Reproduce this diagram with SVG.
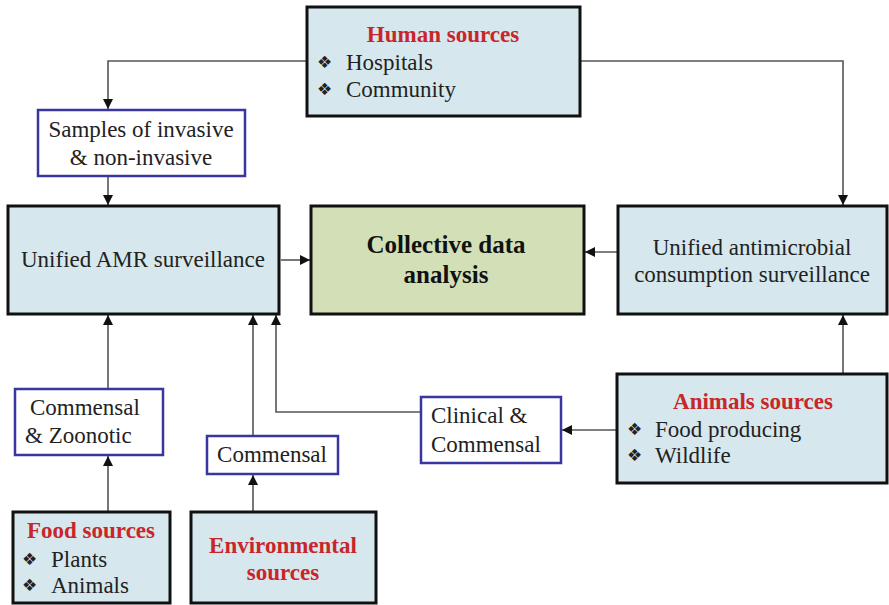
<svg xmlns="http://www.w3.org/2000/svg" width="889" height="605" viewBox="0 0 889 605">
  <style>
    .src { fill: #d6e8ee; stroke: #111; stroke-width: 3; }
    .hub { fill: #d3dfb7; stroke: #111; stroke-width: 3; }
    .tag { fill: #fff; stroke: #3a36a0; stroke-width: 2.5; }
    .link { fill: none; stroke: #555; stroke-width: 1.6; }
    text { font-family: "Liberation Serif", "DejaVu Serif", serif; font-size: 23px; fill: #222; }
    .head { font-weight: bold; fill: #c8262a; }
    .big { font-weight: bold; font-size: 25px; fill: #111; }
    .mid { text-anchor: middle; }
    .bul { font-family: "DejaVu Sans", sans-serif; font-size: 17px; fill: #222; }
  </style>
  <defs>
    <marker id="arrow" viewBox="0 0 10 10" refX="10" refY="5" markerWidth="10" markerHeight="10" markerUnits="userSpaceOnUse" orient="auto">
      <path d="M0,0 L10,5 L0,10 Z" fill="#111"/>
    </marker>
  </defs>

  <rect width="889" height="605" fill="#fff"/>

  <!-- connectors -->
  <g id="connectors">
    <path class="link" d="M307,61 H108 V109" marker-end="url(#arrow)"/>
    <path class="link" d="M108,176 V205" marker-end="url(#arrow)"/>
    <path class="link" d="M580,61 H843 V205" marker-end="url(#arrow)"/>
    <path class="link" d="M281,260 H310" marker-end="url(#arrow)"/>
    <path class="link" d="M618,252 H585" marker-end="url(#arrow)"/>
    <path class="link" d="M843,374 V315" marker-end="url(#arrow)"/>
    <path class="link" d="M108,389 V315" marker-end="url(#arrow)"/>
    <path class="link" d="M108,512 V456" marker-end="url(#arrow)"/>
    <path class="link" d="M253,436 V315" marker-end="url(#arrow)"/>
    <path class="link" d="M253,512 V475" marker-end="url(#arrow)"/>
    <path class="link" d="M421,412 H276 V315" marker-end="url(#arrow)"/>
    <path class="link" d="M617,430 H562" marker-end="url(#arrow)"/>
  </g>

  <!-- human sources -->
  <g id="human-sources">
    <rect class="src" x="307" y="7" width="273" height="109"/>
    <text class="head mid" x="443" y="42">Human sources</text>
    <text class="bul" x="317" y="68">❖</text>
    <text x="346" y="70">Hospitals</text>
    <text class="bul" x="317" y="95">❖</text>
    <text x="346" y="97">Community</text>
  </g>

  <!-- sample type label -->
  <g id="samples">
    <rect class="tag" x="38" y="110" width="207" height="66"/>
    <text class="mid" x="141" y="137">Samples of invasive</text>
    <text class="mid" x="141" y="165">&amp; non-invasive</text>
  </g>

  <!-- AMR surveillance -->
  <g id="amr-surveillance">
    <rect class="src" x="8" y="206" width="271" height="108"/>
    <text class="mid" x="143" y="267">Unified AMR surveillance</text>
  </g>

  <!-- collective analysis -->
  <g id="collective-analysis">
    <rect class="hub" x="311" y="206" width="273" height="108"/>
    <text class="big mid" x="446" y="253">Collective data</text>
    <text class="big mid" x="446" y="283">analysis</text>
  </g>

  <!-- consumption surveillance -->
  <g id="consumption-surveillance">
    <rect class="src" x="618" y="206" width="269" height="108"/>
    <text class="mid" x="752" y="255">Unified antimicrobial</text>
    <text class="mid" x="752" y="282">consumption surveillance</text>
  </g>

  <!-- commensal and zoonotic label -->
  <g id="commensal-zoonotic">
    <rect class="tag" x="15" y="389" width="148" height="66"/>
    <text x="30" y="415">Commensal</text>
    <text x="25" y="443">&amp; Zoonotic</text>
  </g>

  <!-- commensal label -->
  <g id="commensal">
    <rect class="tag" x="207" y="436" width="131" height="38"/>
    <text class="mid" x="272" y="462">Commensal</text>
  </g>

  <!-- clinical and commensal label -->
  <g id="clinical-commensal">
    <rect class="tag" x="421" y="397" width="140" height="66"/>
    <text x="431" y="423">Clinical &amp;</text>
    <text x="431" y="452">Commensal</text>
  </g>

  <!-- animal sources -->
  <g id="animal-sources">
    <rect class="src" x="617" y="374" width="270" height="109"/>
    <text class="head mid" x="753" y="409">Animals sources</text>
    <text class="bul" x="627" y="435">❖</text>
    <text x="655" y="437">Food producing</text>
    <text class="bul" x="627" y="461">❖</text>
    <text x="655" y="463">Wildlife</text>
  </g>

  <!-- food sources -->
  <g id="food-sources">
    <rect class="src" x="13" y="512" width="157" height="91"/>
    <text class="head" x="27" y="538">Food sources</text>
    <text class="bul" x="22" y="565">❖</text>
    <text x="51" y="567">Plants</text>
    <text class="bul" x="22" y="591">❖</text>
    <text x="51" y="593">Animals</text>
  </g>

  <!-- environmental sources -->
  <g id="environmental-sources">
    <rect class="src" x="191" y="512" width="185" height="91"/>
    <text class="head mid" x="283" y="553">Environmental</text>
    <text class="head mid" x="283" y="580">sources</text>
  </g>
</svg>
